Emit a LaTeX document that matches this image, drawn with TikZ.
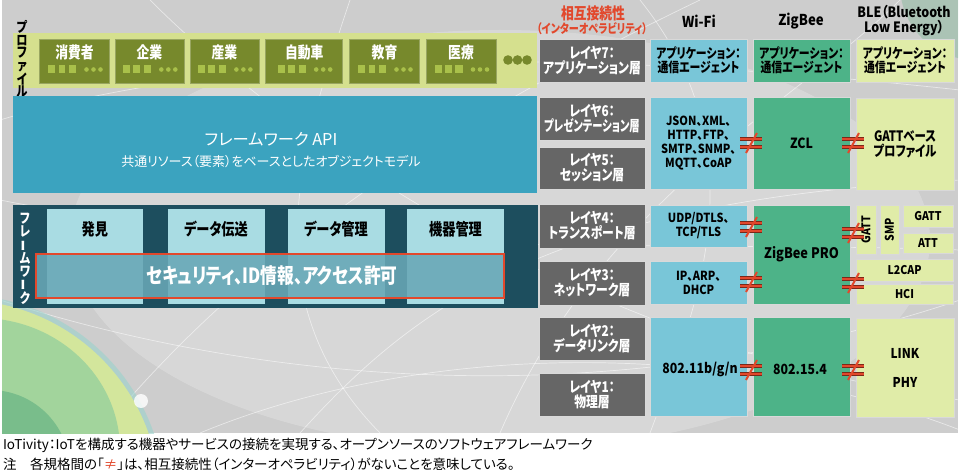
\documentclass[tikz,border=0pt]{standalone}
\usepackage{fontspec}
\usepackage{graphicx}
\setmainfont{Noto Sans CJK JP}[RawFeature={+palt}]
\newfontfamily\condA{Noto Sans CJK JP}[FakeStretch=0.8, RawFeature={+palt}]
\newfontfamily\condB{Noto Sans CJK JP}[FakeStretch=0.88, RawFeature={+palt}]
\definecolor{bgray}{HTML}{CDCDCD}
\definecolor{profbar}{HTML}{D5E08E}
\definecolor{olive}{HTML}{77892C}
\definecolor{olivelt}{HTML}{A9C04A}
\definecolor{apiblue}{HTML}{3BA3BF}
\definecolor{fwdark}{HTML}{1D4E5E}
\definecolor{fwlight}{HTML}{A9DCE3}
\definecolor{secfill}{HTML}{69A7B6}
\definecolor{neqred}{HTML}{E2482C}
\definecolor{laygray}{HTML}{666666}
\definecolor{wifi}{HTML}{79C6D8}
\definecolor{zig}{HTML}{4DB388}
\definecolor{ble}{HTML}{E0ECA8}
\definecolor{blobA}{HTML}{A2D49C}
\definecolor{blobB}{HTML}{D3E69C}
\definecolor{blobC}{HTML}{5FAE80}
\definecolor{blobD}{HTML}{9AD3CC}
\newcommand\fsz[2]{\fontsize{#1}{#2}\selectfont}
\newcommand\vbar{\rotatebox[origin=c]{90}{ー}}
\newcommand\profbox[4]{%
  \node[draw=olive!75!white, line width=.5pt, fill=olive, minimum width=#3pt, minimum height=44pt] (#1) at (#2,61) {};
  \node[text=white, font=\condA\bfseries\fsz{16}{16}] (#1t) at (#2,52) {#4};
  \fill[olivelt] (#2-26.3,65.5) rectangle (#2-19.4,73.5);
  \fill[olivelt] (#2-16,65.5) rectangle (#2-9.1,73.5);
  \fill[olivelt] (#2-5.6,65.5) rectangle (#2+1.9,73.5);
  \fill[olivelt] (#2+12,69.5) circle (2.3) (#2+19,69.5) circle (2.3) (#2+26,69.5) circle (2.3);
}
\begin{document}
\begin{tikzpicture}[x=1pt,y=-1pt,
  every node/.style={inner sep=0pt, outer sep=0pt},
  cellbox/.style={draw=white!85!black, line width=0.7pt, align=center},
  laybox/.style={cellbox, fill=laygray, text=white, font=\condA\bfseries\fsz{14.8}{15}, minimum width=106pt},
  wbox/.style={cellbox, fill=wifi, font=\condB\bfseries\fsz{12.5}{14}},
  zbox/.style={cellbox, fill=zig, font=\condB\bfseries\fsz{12.5}{14}},
  bbox/.style={cellbox, fill=ble, font=\condB\bfseries\fsz{12.5}{14}},
  sbox/.style={cellbox, fill=ble, font=\condB\bfseries\fsz{12}{12}},
  row7/.style={font=\condA\bfseries\fsz{13.6}{14}, minimum height=43pt},
  fwbox/.style={fill=fwlight, minimum width=97pt, minimum height=95pt},
  fwlabel/.style={font=\condA\bfseries\fsz{16.5}{16}},
  noteq/.pic={
    \draw[neqred!55!black, line width=3.4pt] (-11,-4)--(11,-4) (-11,4)--(11,4);
    \draw[neqred, line width=2.2pt] (-11,-4)--(11,-4) (-11,4)--(11,4);
    \draw[neqred, line width=2pt] (-5,10)--(6,-10);
  }
]
\useasboundingbox (0,0) rectangle (960,470);
\fill[white] (0,0) rectangle (960,470);
% background
\begin{scope}
\clip (2,0) rectangle (958,433);
\fill[bgray] (2,0) rectangle (958,433);
\fill[white, opacity=.22] (500,240) ellipse (430 and 210);
\begin{scope}[white, opacity=.55, line width=.7pt]
\draw (0,120) .. controls (200,60) and (500,40) .. (960,90);
\draw (100,433) .. controls (250,250) and (450,120) .. (700,0);
\draw (300,433) .. controls (420,300) and (560,200) .. (960,180);
\draw (150,0) .. controls (300,150) and (600,350) .. (960,400);
\draw (500,433) .. controls (600,200) and (800,100) .. (900,0);
\draw (0,300) .. controls (250,380) and (600,420) .. (960,300);
\draw (650,433) .. controls (700,300) and (760,150) .. (640,0);
\draw (200,433) .. controls (400,350) and (700,330) .. (960,430);
\draw (350,0) .. controls (300,150) and (250,300) .. (380,433);
\draw (0,200) .. controls (300,260) and (700,240) .. (960,250);
\end{scope}
\fill[blobD, opacity=.6] (-40,500) circle (205);
\fill[blobB] (-40,500) circle (200);
\fill[blobA] (-20,450) ellipse (140 and 132);
\fill[blobC, opacity=.6] (-10,470) circle (80);
\fill[white, opacity=.8] (141,401) circle (7);
\fill[blobC, opacity=.3] (975,-15) circle (75);
\end{scope}
% profile
\node[fill=profbar, minimum width=524pt, minimum height=55pt] (prof) at (275,60.5) {};
\node[font=\condA\bfseries\fsz{14}{12.5}, align=center] (proflabel) at (22,59) {プ\\ロ\\フ\\ァ\\イ\\ル};
\profbox{p1}{74.5}{70}{消費者}
\profbox{p2}{149.3}{69}{企業}
\profbox{p3}{224.4}{69}{産業}
\profbox{p4}{304.2}{77}{自動車}
\profbox{p5}{384.5}{70}{教育}
\profbox{p6}{461}{70}{医療}
\fill[olive] (508,60) circle (4.8) (517.5,60) circle (4.8) (527,60) circle (4.8);
% API
\node[fill=apiblue, minimum width=524pt, minimum height=97pt] (api) at (275,144.5) {};
\node[text=white, font=\fsz{16.3}{17}] (apit) at (271,139) {フレームワーク API};
\node[text=white, font=\fsz{13}{14}] (apis) at (271,162) {共通リソース（要素）をベースとしたオブジェクトモデル};
% framework
\node[fill=fwdark, minimum width=525pt, minimum height=103pt] (fw) at (275.5,256.5) {};
\node[text=white, font=\condA\bfseries\fsz{14}{12.7}, align=center] (fwlabel) at (25,259) {フ\\レ\\\vbar\\ム\\ワ\\\vbar\\ク};
\node[fwbox, minimum width=96.5pt] (f1) at (94.75,256.5) {};
\node[fwbox] (f2) at (216,256.5) {};
\node[fwbox] (f3) at (336,256.5) {};
\node[fwbox] (f4) at (455.5,256.5) {};
\node[fwlabel] (f1t) at (94.75,229) {発見};
\node[fwlabel] (f2t) at (216,229) {データ伝送};
\node[fwlabel] (f3t) at (336,229) {データ管理};
\node[fwlabel] (f4t) at (455.5,229) {機器管理};
\node[fill=secfill, fill opacity=.88, draw=neqred, line width=2pt, minimum width=468.5pt, minimum height=44pt] (sec) at (269.75,276) {};
\node[text=white, font=\condA\bfseries\fsz{20.9}{21}] (sect) at (272,276) {セキュリティ、ID情報、アクセス許可};
% headers
\node[text=neqred, font=\condA\bfseries\fsz{16}{16}] (h1) at (593,13) {相互接続性};
\node[text=neqred, font=\condA\bfseries\fsz{12.6}{13}] (h2) at (592,28.5) {（インターオペラビリティ）};
\node[font=\condB\bfseries\fsz{15}{15}] (hw) at (699,21) {Wi-Fi};
\node[font=\condB\bfseries\fsz{15}{15}] (hz) at (801,21) {ZigBee};
\node[font=\condB\bfseries\fsz{14.2}{15.5}, align=center] (hb) at (904,20.5) {BLE（Bluetooth\\Low Energy）};
% layers
\node[laybox, minimum height=43pt] (L7) at (592,60.5) {レイヤ7：\\アプリケーション層};
\node[laybox, minimum height=43pt] (L6) at (592,118.5) {レイヤ6：\\\scalebox{0.87}[1]{プレゼンテーション層}};
\node[laybox, minimum height=42pt] (L5) at (592,168) {レイヤ5：\\セッション層};
\node[laybox, minimum height=44pt] (L4) at (592,226) {レイヤ4：\\トランスポート層};
\node[laybox, minimum height=44pt] (L3) at (592,283) {レイヤ3：\\ネットワーク層};
\node[laybox, minimum height=43pt] (L2) at (592,338.5) {レイヤ2：\\データリンク層};
\node[laybox, minimum height=43pt] (L1) at (592,394.5) {レイヤ1：\\物理層};
% row 7
\node[wbox, row7, minimum width=97pt] (W7) at (698.5,60.5) {アプリケーション：\\通信エージェント};
\node[zbox, row7, minimum width=97pt] (Z7) at (801.5,60.5) {アプリケーション：\\通信エージェント};
\node[bbox, row7, minimum width=98pt] (B7) at (905,60.5) {アプリケーション：\\通信エージェント};
% rows 6-5
\node[wbox, minimum width=97pt, minimum height=92pt] (W65) at (698.5,143) {JSON、XML、\\HTTP、FTP、\\SMTP、SNMP、\\MQTT、CoAP};
\node[zbox, font=\condB\bfseries\fsz{14}{14}, minimum width=97pt, minimum height=92pt] (Z65) at (801.5,143) {ZCL};
\node[bbox, font=\condA\bfseries\fsz{14.3}{15}, minimum width=98pt, minimum height=92pt] (B65) at (905,144) {GATTベース\\プロファイル};
% rows 4-3
\node[wbox, minimum width=97pt, minimum height=42pt] (W4) at (698.5,226) {UDP/DTLS、\\TCP/TLS};
\node[wbox, minimum width=97pt, minimum height=43pt] (W3) at (698.5,282.5) {IP、ARP、\\DHCP};
\node[zbox, font=\condB\bfseries\fsz{14.5}{14}, minimum width=97pt, minimum height=99pt] (ZP) at (801.5,254.5) {ZigBee PRO};
\node[sbox, minimum width=20pt, minimum height=49pt] (Bgv) at (866,229.5) {};
\node[font=\condB\bfseries\fsz{12}{12}, rotate=90] (Bgvt) at (866,229.5) {GATT};
\node[sbox, minimum width=19pt, minimum height=49pt] (Bsmp) at (889.5,229.5) {};
\node[font=\condB\bfseries\fsz{12}{12}, rotate=90] (Bsmpt) at (889.5,229.5) {SMP};
\node[sbox, minimum width=50pt, minimum height=22pt] (Bg) at (928,216) {GATT};
\node[sbox, minimum width=50pt, minimum height=20pt] (Batt) at (928,243) {ATT};
\node[sbox, minimum width=97pt, minimum height=22pt] (Bl2) at (904.5,270) {L2CAP};
\node[sbox, minimum width=97pt, minimum height=20pt] (Bhci) at (904.5,294) {HCI};
% rows 2-1
\node[wbox, minimum width=97pt, minimum height=99pt] (W21) at (698.5,366.5) {};
\node[font=\condB\bfseries\fsz{14}{14}] (W21t) at (700,369) {802.11b/g/n};
\node[zbox, minimum width=97pt, minimum height=99pt] (Z21) at (801.5,366.5) {};
\node[font=\condB\bfseries\fsz{14}{14}] (Z21t) at (800,369) {802.15.4};
\node[bbox, font=\condB\bfseries\fsz{13.5}{29}, minimum width=98pt, minimum height=99pt] (B21) at (905,367.5) {LINK\\PHY};
% not-equal marks
\pic at (751,143) {noteq};
\pic at (853,143) {noteq};
\pic at (751,227) {noteq};
\pic at (853,233) {noteq};
\pic at (751,282) {noteq};
\pic at (853,283) {noteq};
\pic at (751,370) {noteq};
\pic at (853,370) {noteq};
% footnotes
\node[anchor=west, font=\fsz{13.5}{14}] (fn1) at (3,445) {IoTivity：IoTを構成する機器やサービスの接続を実現する、オープンソースのソフトウェアフレームワーク};
\node[anchor=west, font=\fsz{13.5}{14}] (fn2) at (3,464) {注　各規格間の「\textcolor{neqred}{≠}」は、相互接続性（インターオペラビリティ）がないことを意味している。};
\end{tikzpicture}
\end{document}
